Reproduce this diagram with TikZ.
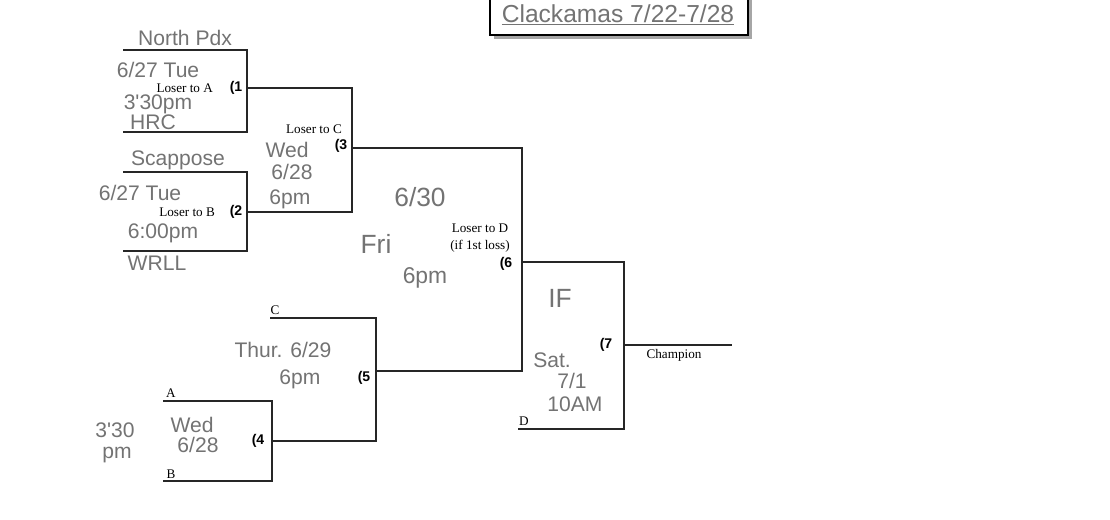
\documentclass[tikz,border=0pt]{standalone}
\usepackage{fontspec}
\newfontfamily\hand{Liberation Sans}
\setmainfont{Liberation Serif}
\begin{document}
\begin{tikzpicture}[
    x=0.02cm, y=-0.02cm,
    line/.style   = {draw, line width=0.9pt, black!85},
    printed/.style = {font=\fontsize{7.5}{8.5}\selectfont, inner sep=1pt},
    seed/.style    = {font=\hand\bfseries\fontsize{8}{9}\selectfont, inner sep=1pt},
    handw/.style   = {font=\hand\fontsize{12}{13}\selectfont, text=black!55, inner sep=0pt}
  ]
  \useasboundingbox (0,0) rectangle (1110,520);

  % title box
  \fill[black!35] (494,-5) rectangle (752,39);
  \draw[fill=white, line width=0.8pt] (490,-5) rectangle (748,35);
  \node[handw, font=\hand\fontsize{14}{15}\selectfont] (title) at (618,15) {\underline{Clackamas 7/22-7/28}};

  % corner points of the bracket
  \coordinate (g1t) at (123,50);  \coordinate (g1b) at (123,132);
  \coordinate (g2t) at (123,172); \coordinate (g2b) at (123,251);
  \coordinate (g5t) at (270,318); \coordinate (g4t) at (163,401);
  \coordinate (g4b) at (163,481); \coordinate (g7b) at (518,429);
  \coordinate (champ) at (732,345);

  % round 1
  \draw[line] (g1t) -| (247,132) -- (g1b);
  \draw[line] (g2t) -| (247,251) -- (g2b);
  \draw[line] (247,88) -| (352,212) -- (247,212);
  % winners to final
  \draw[line] (352,148) -| (522,371) -- (376,371);
  \draw[line] (522,262) -| (624,429) -- (g7b);
  \draw[line] (624,345) -- (champ);
  % losers side
  \draw[line] (g4t) -| (272,481) -- (g4b);
  \draw[line] (g5t) -| (376,441) -- (272,441);

  % printed labels
  \node[printed, anchor=east] (l1) at (215,88) {Loser to A};
  \node[seed] (s1) at (236,88) {(1};
  \node[printed, anchor=east] (l2) at (217,212) {Loser to B};
  \node[seed] (s2) at (236,212) {(2};
  \node[printed] (l3) at (314,129) {Loser to C};
  \node[seed] (s3) at (341,146) {(3};
  \node[printed] (l6a) at (480,228) {Loser to D};
  \node[printed] (l6b) at (480,246) {(if 1st loss)};
  \node[seed] (s6) at (506,264) {(6};
  \node[seed] (s5) at (364,378) {(5};
  \node[seed] (s4) at (258,441) {(4};
  \node[seed] (s7) at (606,345) {(7};
  \node[printed] (ch) at (674,355) {Champion};
  \node[printed] (lc) at (275,310) {C};
  \node[printed] (la) at (171,393) {A};
  \node[printed] (lb) at (171,474) {B};
  \node[printed] (ld) at (524,421) {D};

  % handwritten notes
  \node[handw] (h1) at (185,38) {North Pdx};
  \node[handw] (h2) at (158,70) {6/27 Tue};
  \node[handw] (h3) at (158,104) {3'30pm};
  \node[handw] (h4) at (153,122) {HRC};
  \node[handw] (h5) at (178,160) {Scappose};
  \node[handw] (h6) at (140,193) {6/27 Tue};
  \node[handw] (h7) at (163,233) {6:00pm};
  \node[handw] (h8) at (157,263) {WRLL};
  \node[handw] (h9) at (287,150) {Wed};
  \node[handw] (h10) at (292,172) {6/28};
  \node[handw] (h11) at (290,199) {6pm};
  \node[handw, font=\hand\fontsize{15}{16}\selectfont] (h12) at (420,197) {6/30};
  \node[handw, font=\hand\fontsize{15}{16}\selectfont] (h13) at (376,244) {Fri};
  \node[handw, font=\hand\fontsize{13}{14}\selectfont] (h14) at (425,278) {6pm};
  \node[handw, font=\hand\fontsize{15}{16}\selectfont] (h15) at (560,298) {IF};
  \node[handw] (h16) at (552,360) {Sat.};
  \node[handw] (h17) at (572,381) {7/1};
  \node[handw] (h18) at (575,404) {10AM};
  \node[handw] (h19) at (283,350) {Thur. 6/29};
  \node[handw] (h20) at (300,379) {6pm};
  \node[handw] (h21) at (115,430) {3'30};
  \node[handw] (h22) at (117,455) {pm};
  \node[handw] (h23) at (192,425) {Wed};
  \node[handw] (h24) at (198,445) {6/28};
\end{tikzpicture}
\end{document}
